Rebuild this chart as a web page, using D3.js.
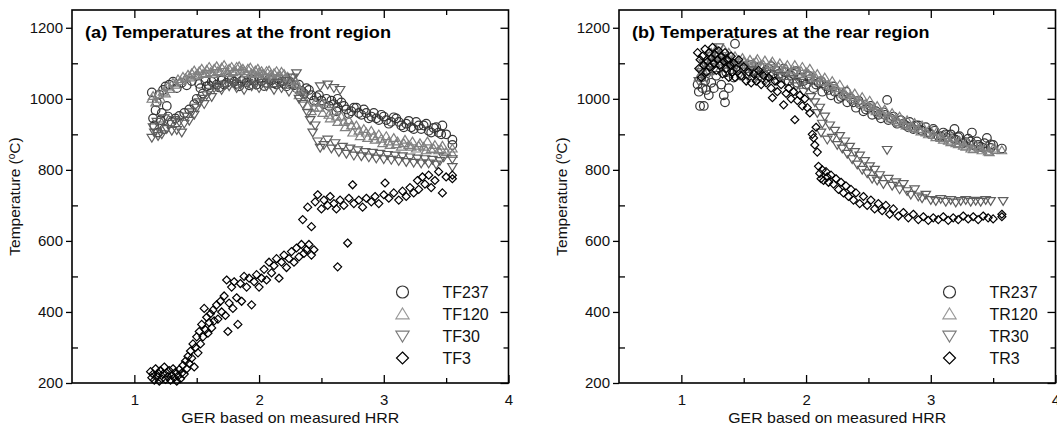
<!DOCTYPE html>
<html>
<head>
<meta charset="utf-8">
<script src="https://cdn.jsdelivr.net/npm/d3@7"></script>
<style>
body { margin: 0; background: #fff; }
text { font-family: "Liberation Sans", Arial, sans-serif; }
</style>
</head>
<body>
<svg id="chart" width="1057" height="430"></svg>
<script>
// ---- data ----
const xTicks = [1, 2, 3, 4];
const xMinorTicks = [1.5, 2.5, 3.5];
const yTicks = [200, 400, 600, 800, 1000, 1200];
const yMinorTicks = [300, 500, 700, 900, 1100];

const frontNames = ["TF237", "TF120", "TF30", "TF3"];
const rearNames = ["TR237", "TR120", "TR30", "TR3"];

// front region  [GER, temperature]
const tf237 = [[1.14,1018],[1.15,945],[1.16,925],[1.17,968],[1.18,990],[1.19,905],[1.20,1012],[1.21,940],[1.22,960],[1.23,1025],[1.24,915],[1.25,1035],[1.26,980],[1.27,950],[1.28,1040],[1.30,935],[1.31,1048],[1.33,945],[1.34,1030],[1.36,952],[1.38,1045],[1.40,960],[1.42,1038],[1.44,970],[1.46,1050],[1.48,985],[1.50,1000],[1.52,1042],[1.55,1015],[1.58,1035],[1.62,1048],[1.66,1040],[1.70,1052],[1.74,1045],[1.78,1055],[1.82,1042],[1.86,1050],[1.90,1046],[1.94,1055],[1.98,1040],[2.02,1050],[2.06,1045],[2.10,1052],[2.14,1040],[2.18,1048],[2.22,1035],[2.26,1042],[2.30,1030],[2.34,1022],[2.38,1030],[2.42,1010],[2.46,1005],[2.50,995],[2.54,1000],[2.56,980],[2.60,985],[2.63,1000],[2.63,975],[2.66,990],[2.70,970],[2.74,965],[2.78,975],[2.82,955],[2.86,960],[2.90,950],[2.94,945],[2.98,955],[3.02,940],[3.06,935],[3.10,945],[3.14,925],[3.18,930],[3.22,920],[3.26,935],[3.30,915],[3.32,925],[3.36,910],[3.40,918],[3.44,905],[3.47,925],[3.50,900],[3.55,885],[3.55,870],
    [1.53,1030],[1.57,1050],[1.60,1038],[1.64,1055],[1.68,1032],[1.72,1040],[1.76,1058],[1.80,1048],[1.84,1035],[1.88,1057],[1.92,1038],[1.96,1050],[2.00,1058],[2.04,1036],[2.08,1055],[2.12,1044],[2.16,1056],[2.20,1042],[2.24,1050],[2.28,1038],[2.32,1040],[2.36,1015],[2.40,1025],[2.44,995],[2.48,1010],[2.52,985],[2.58,995],[2.62,965],[2.68,980],[2.72,958],[2.76,975],[2.80,960],[2.84,970],[2.88,945],[2.92,960],[2.96,940],[3.00,950],[3.04,930],[3.08,948],[3.12,935],[3.16,920],[3.20,938],[3.24,915],[3.28,925],[3.34,930],[3.38,905],[3.42,920],[3.46,900]];
const tf120 = [[1.14,1000],[1.15,1008],[1.17,990],[1.19,1012],[1.21,1000],[1.23,1020],[1.25,1015],[1.27,1035],[1.29,1028],[1.31,1045],[1.33,1040],[1.35,1055],[1.37,1050],[1.39,1062],[1.41,1058],[1.43,1068],[1.46,1072],[1.49,1065],[1.52,1078],[1.55,1070],[1.58,1082],[1.61,1075],[1.64,1085],[1.67,1078],[1.70,1088],[1.73,1080],[1.76,1085],[1.79,1075],[1.82,1090],[1.85,1080],[1.88,1078],[1.91,1085],[1.94,1072],[1.97,1080],[2.00,1075],[2.03,1070],[2.06,1078],[2.09,1068],[2.12,1072],[2.15,1062],[2.18,1076],[2.21,1058],[2.24,1050],[2.27,1060],[2.30,1040],[2.33,1025],[2.36,1000],[2.39,980],[2.42,965],[2.45,990],[2.48,975],[2.51,960],[2.54,985],[2.57,945],[2.60,965],[2.63,935],[2.66,950],[2.69,920],[2.72,940],[2.75,905],[2.78,925],[2.81,895],[2.84,915],[2.87,890],[2.90,910],[2.93,885],[2.96,900],[2.99,875],[3.02,895],[3.05,870],[3.08,890],[3.11,880],[3.14,865],[3.17,885],[3.20,870],[3.23,880],[3.26,860],[3.29,875],[3.32,865],[3.35,880],[3.38,858],[3.41,870],[3.44,855],[3.47,868],[3.50,850],[3.55,860],[3.55,845],
    [1.45,1060],[1.48,1080],[1.51,1068],[1.54,1085],[1.57,1072],[1.60,1090],[1.63,1070],[1.66,1092],[1.69,1075],[1.72,1095],[1.75,1072],[1.78,1090],[1.81,1078],[1.84,1092],[1.87,1085],[1.90,1072],[1.93,1088],[1.96,1070],[1.99,1085],[2.02,1078],[2.05,1065],[2.08,1080],[2.11,1062],[2.14,1078],[2.17,1065],[2.20,1070],[2.23,1062],[2.26,1045],[2.29,1052],[2.32,1010],[2.35,1020],[2.44,975],[2.50,990],[2.56,955],[2.62,950],[2.68,935],[2.74,925],[2.80,910],[2.86,905],[2.92,895],[2.98,888],[3.04,880],[3.10,872],[3.16,875],[3.22,865],[3.28,868],[3.34,855],[3.40,860],[3.46,858]];
const tf30 = [[1.14,890],[1.15,920],[1.16,905],[1.18,935],[1.19,895],[1.21,925],[1.22,900],[1.24,945],[1.26,915],[1.28,930],[1.30,910],[1.32,940],[1.34,912],[1.36,935],[1.38,905],[1.40,930],[1.42,950],[1.44,938],[1.46,962],[1.48,955],[1.50,975],[1.52,990],[1.54,1000],[1.56,985],[1.58,1010],[1.60,1020],[1.62,1005],[1.64,1030],[1.67,1035],[1.70,1025],[1.73,1040],[1.76,1035],[1.79,1045],[1.82,1030],[1.85,1040],[1.88,1025],[1.91,1045],[1.94,1035],[1.97,1040],[2.00,1030],[2.03,1045],[2.06,1035],[2.09,1040],[2.12,1025],[2.15,1045],[2.18,1030],[2.21,1050],[2.24,1020],[2.27,1060],[2.30,1072],[2.32,1000],[2.35,985],[2.37,1010],[2.39,960],[2.41,940],[2.43,905],[2.45,925],[2.47,880],[2.49,1035],[2.49,862],[2.52,870],[2.55,1040],[2.55,885],[2.58,860],[2.60,1030],[2.61,875],[2.64,850],[2.65,1025],[2.67,865],[2.70,845],[2.73,860],[2.76,840],[2.79,855],[2.82,838],[2.85,850],[2.88,835],[2.91,848],[2.94,832],[2.97,845],[3.00,830],[3.03,842],[3.06,828],[3.09,840],[3.12,825],[3.15,838],[3.18,822],[3.21,835],[3.24,820],[3.27,832],[3.30,818],[3.33,830],[3.36,818],[3.39,828],[3.42,815],[3.45,825],[3.48,835],[3.55,830],[3.55,808]];
const tf3 = [[1.13,232],[1.14,215],[1.15,225],[1.16,208],[1.17,240],[1.18,218],[1.19,228],[1.20,205],[1.21,235],[1.22,212],[1.23,225],[1.24,245],[1.25,210],[1.26,228],[1.27,218],[1.28,235],[1.29,208],[1.30,222],[1.31,240],[1.32,215],[1.33,230],[1.34,205],[1.35,220],[1.36,238],[1.37,212],[1.38,228],[1.39,250],[1.40,225],[1.41,262],[1.42,240],[1.43,275],[1.44,255],[1.45,290],[1.46,270],[1.47,310],[1.48,245],[1.49,300],[1.50,330],[1.51,285],[1.52,345],[1.53,310],[1.54,365],[1.55,330],[1.56,410],[1.57,350],[1.58,385],[1.59,340],[1.60,370],[1.61,395],[1.62,355],[1.63,405],[1.64,375],[1.66,420],[1.67,380],[1.69,430],[1.70,400],[1.72,445],[1.73,390],[1.74,490],[1.75,345],[1.76,425],[1.78,470],[1.79,410],[1.80,485],[1.82,440],[1.83,365],[1.85,480],[1.86,430],[1.88,500],[1.90,470],[1.92,495],[1.94,420],[1.96,485],[1.98,505],[2.00,470],[2.02,495],[2.04,520],[2.06,490],[2.08,540],[2.10,510],[2.12,530],[2.14,550],[2.16,495],[2.18,540],[2.20,560],[2.22,525],[2.24,550],[2.26,570],[2.28,540],[2.30,580],[2.32,555],[2.34,590],[2.36,565],[2.38,575],[2.40,590],[2.42,560],[2.44,575],[2.35,660],[2.39,695],[2.42,640],[2.45,710],[2.47,730],[2.50,690],[2.52,715],[2.55,700],[2.57,725],[2.60,705],[2.62,690],[2.63,527],[2.65,715],[2.68,700],[2.71,594],[2.72,720],[2.75,758],[2.76,705],[2.80,715],[2.83,695],[2.86,720],[2.90,710],[2.93,725],[2.96,705],[3.00,730],[3.01,763],[3.04,720],[3.08,735],[3.12,715],[3.15,740],[3.18,725],[3.21,750],[3.24,735],[3.27,770],[3.28,745],[3.31,780],[3.33,760],[3.36,785],[3.38,750],[3.41,770],[3.44,795],[3.47,735],[3.50,780],[3.55,775],[3.55,785]];

// rear region  [GER, temperature]
const tr237 = [[1.13,1040],[1.14,1020],[1.15,980],[1.16,1060],[1.17,1030],[1.18,980],[1.19,1050],[1.20,1025],[1.21,1080],[1.22,1010],[1.24,1045],[1.25,1100],[1.26,1030],[1.28,1065],[1.30,1120],[1.32,1040],[1.34,1010],[1.35,990],[1.36,1075],[1.38,1030],[1.40,1095],[1.42,1060],[1.43,1155],[1.45,1080],[1.48,1065],[1.50,1090],[1.53,1070],[1.56,1095],[1.60,1075],[1.63,1090],[1.66,1070],[1.70,1085],[1.73,1065],[1.76,1080],[1.80,1060],[1.83,1075],[1.86,1050],[1.90,1070],[1.93,1045],[1.96,1060],[2.00,1040],[2.03,1055],[2.06,1030],[2.10,1045],[2.13,1020],[2.16,1035],[2.20,1010],[2.23,1020],[2.26,1000],[2.30,1010],[2.33,990],[2.36,1000],[2.40,975],[2.43,985],[2.46,965],[2.50,975],[2.53,955],[2.56,965],[2.60,945],[2.63,955],[2.65,997],[2.66,940],[2.70,950],[2.73,930],[2.76,940],[2.80,925],[2.83,935],[2.86,915],[2.90,925],[2.93,910],[2.96,920],[3.00,900],[3.03,910],[3.06,895],[3.10,905],[3.13,890],[3.16,900],[3.19,915],[3.20,885],[3.23,895],[3.26,875],[3.30,888],[3.33,905],[3.34,870],[3.37,880],[3.40,865],[3.43,875],[3.45,890],[3.48,862],[3.50,870],[3.57,860],
    [1.52,1085],[1.58,1080],[1.62,1065],[1.68,1080],[1.72,1092],[1.78,1070],[1.82,1085],[1.88,1065],[1.92,1078],[1.98,1050],[2.02,1065],[2.08,1040],[2.12,1050],[2.18,1025],[2.22,1035],[2.28,1005],[2.32,1020],[2.38,990],[2.42,995],[2.48,970],[2.52,980],[2.58,955],[2.62,962],[2.68,945],[2.72,935],[2.78,930],[2.82,920],[2.88,925],[2.92,912],[2.98,905],[3.02,915],[3.08,895],[3.12,900],[3.18,888],[3.22,892],[3.28,878],[3.32,880],[3.38,870],[3.42,862],[3.48,872]];
const tr120 = [[1.14,1060],[1.16,1090],[1.18,1075],[1.20,1110],[1.22,1095],[1.24,1130],[1.26,1115],[1.28,1140],[1.30,1105],[1.32,1125],[1.34,1140],[1.36,1110],[1.38,1130],[1.40,1100],[1.43,1120],[1.46,1105],[1.49,1115],[1.52,1095],[1.55,1110],[1.58,1100],[1.61,1112],[1.64,1095],[1.67,1108],[1.70,1090],[1.73,1105],[1.76,1085],[1.79,1100],[1.82,1080],[1.85,1095],[1.88,1075],[1.91,1095],[1.94,1070],[1.97,1090],[2.00,1075],[2.03,1085],[2.06,1060],[2.09,1070],[2.12,1050],[2.15,1060],[2.18,1040],[2.21,1050],[2.24,1030],[2.27,1040],[2.30,1015],[2.33,1025],[2.36,1005],[2.39,1015],[2.42,995],[2.45,1005],[2.48,985],[2.51,995],[2.54,970],[2.57,980],[2.60,960],[2.63,970],[2.66,950],[2.69,960],[2.72,940],[2.75,950],[2.78,930],[2.81,940],[2.84,922],[2.87,932],[2.90,915],[2.93,925],[2.96,905],[2.99,915],[3.02,898],[3.05,908],[3.08,890],[3.11,898],[3.14,882],[3.17,890],[3.20,875],[3.23,882],[3.26,868],[3.29,878],[3.32,860],[3.35,870],[3.38,865],[3.41,855],[3.44,865],[3.47,850],[3.50,860],[3.57,855],
    [1.50,1105],[1.54,1098],[1.60,1105],[1.66,1095],[1.72,1098],[1.78,1090],[1.84,1085],[1.90,1080],[1.96,1078],[2.02,1070],[2.08,1058],[2.14,1048],[2.20,1035],[2.26,1022],[2.32,1010],[2.38,1000],[2.44,988],[2.50,978],[2.56,965],[2.62,955],[2.68,945],[2.74,935],[2.80,925],[2.86,918],[2.92,908],[2.98,900],[3.04,892],[3.10,885],[3.16,878],[3.22,872],[3.28,865],[3.34,858],[3.40,862],[3.46,852],[3.52,856]];
const tr30 = [[1.14,1050],[1.16,1075],[1.18,1100],[1.20,1060],[1.22,1090],[1.24,1120],[1.26,1080],[1.28,1110],[1.30,1145],[1.32,1095],[1.34,1115],[1.36,1085],[1.38,1105],[1.41,1075],[1.44,1095],[1.47,1070],[1.50,1085],[1.53,1065],[1.56,1080],[1.60,1060],[1.64,1075],[1.68,1055],[1.72,1070],[1.76,1050],[1.80,1065],[1.84,1045],[1.88,1055],[1.92,1035],[1.95,1045],[1.98,1020],[2.01,1035],[2.04,1005],[2.07,990],[2.09,960],[2.11,975],[2.12,905],[2.13,930],[2.15,950],[2.17,885],[2.19,925],[2.21,890],[2.23,910],[2.25,870],[2.27,895],[2.29,860],[2.31,880],[2.33,845],[2.35,865],[2.37,830],[2.39,850],[2.41,815],[2.43,840],[2.45,800],[2.47,825],[2.49,790],[2.51,810],[2.53,775],[2.55,800],[2.57,770],[2.59,785],[2.62,760],[2.65,856],[2.66,775],[2.69,755],[2.72,765],[2.75,745],[2.78,760],[2.81,740],[2.84,730],[2.87,745],[2.90,725],[2.93,720],[2.96,730],[3.00,715],[3.04,712],[3.08,718],[3.12,710],[3.16,715],[3.20,708],[3.24,712],[3.28,715],[3.32,710],[3.36,713],[3.40,710],[3.44,715],[3.48,712],[3.58,712]];
const tr3 = [[1.13,1130],[1.14,1085],[1.15,1110],[1.16,1060],[1.17,1120],[1.18,1095],[1.19,1140],[1.20,1075],[1.21,1105],[1.22,1130],[1.23,1090],[1.24,1115],[1.25,1145],[1.26,1100],[1.27,1125],[1.28,1080],[1.29,1110],[1.30,1135],[1.31,1095],[1.32,1120],[1.33,1070],[1.34,1105],[1.35,1130],[1.36,1085],[1.37,1110],[1.38,1060],[1.39,1095],[1.40,1120],[1.41,1075],[1.42,1100],[1.43,1060],[1.44,1085],[1.46,1110],[1.48,1065],[1.50,1090],[1.52,1050],[1.54,1075],[1.56,1045],[1.58,1070],[1.60,1050],[1.62,1080],[1.64,1040],[1.66,1065],[1.68,1045],[1.70,1060],[1.72,1030],[1.73,1003],[1.75,1050],[1.77,1020],[1.80,1040],[1.82,983],[1.84,1015],[1.86,1030],[1.88,1000],[1.90,1020],[1.91,941],[1.93,995],[1.95,1010],[1.97,980],[1.99,1000],[2.01,975],[2.03,960],[2.05,900],[2.06,890],[2.07,870],[2.08,920],[2.09,850],[2.10,810],[2.11,790],[2.12,775],[2.13,800],[2.14,770],[2.16,795],[2.17,780],[2.18,765],[2.20,785],[2.22,760],[2.24,775],[2.26,745],[2.28,765],[2.30,735],[2.32,755],[2.34,725],[2.36,745],[2.38,715],[2.40,735],[2.43,705],[2.46,725],[2.49,700],[2.52,715],[2.55,690],[2.58,705],[2.61,685],[2.64,700],[2.67,675],[2.70,690],[2.74,670],[2.78,680],[2.82,665],[2.86,675],[2.90,660],[2.94,668],[2.98,658],[3.02,665],[3.06,660],[3.10,668],[3.14,658],[3.18,665],[3.22,660],[3.26,670],[3.30,662],[3.34,668],[3.38,660],[3.42,670],[3.46,665],[3.50,662],[3.57,668],[3.57,675]];

const markerTypes = ["circle", "up", "down", "diamond"];
const markerColors = ["#353535", "#808080", "#5e5e5e", "#000000"];
const legendColors = ["#333333", "#999999", "#7a7a7a", "#000000"];

function markerPath(type, s) {
    if (type === "circle") return d3.symbol(d3.symbolCircle, Math.PI * s * s)();
    if (type === "up") return `M0,${-s}L${s * 1.1},${s * 0.8}L${-s * 1.1},${s * 0.8}Z`;
    if (type === "down") return `M0,${s}L${s * 1.1},${-s * 0.8}L${-s * 1.1},${-s * 0.8}Z`;
    return `M0,${-s}L${s},0L0,${s}L${-s},0Z`;
}

class TempPanel {
    constructor(svg, left, title, names, series, labelX) {
        this.svg = svg;
        this.left = left;
        this.top = 10;
        this.width = 436.5;
        this.height = 373;
        this.title = title;
        this.names = names;
        this.series = series;
        this.labelX = labelX;
    }

    initialize() {
        const self = this;
        const g = this.svg.append("g").attr("transform", `translate(${this.left}, ${this.top})`);

        this.x = d3.scaleLinear().domain([0.5, 4]).range([0, this.width]);
        this.y = d3.scaleLinear().domain([200, 1250]).range([this.height, 0]);

        // scatter
        this.series.forEach((pts, i) => {
            const p = markerPath(markerTypes[i], markerTypes[i] === "diamond" ? 4 : 4.3);
            g.append("g").selectAll("path")
                .data(pts)
                .join("path")
                .attr("transform", d => `translate(${self.x(d[0])},${self.y(d[1])})`)
                .attr("d", p)
                .attr("fill", "none")
                .attr("stroke", markerColors[i])
                .attr("stroke-width", 1.2);
        });

        // axes
        const style = sel => {
            sel.select(".domain").remove();
            sel.selectAll("line").attr("stroke", "#000").attr("stroke-width", 1.3);
            sel.selectAll("text").attr("font-size", 15).attr("fill", "#111");
        };
        g.append("g").attr("transform", `translate(0, ${this.height})`)
            .call(d3.axisBottom(this.x).tickValues(xTicks).tickSize(-8).tickPadding(11).tickFormat(d3.format("d"))).call(style);
        g.append("g").attr("transform", `translate(0, ${this.height})`)
            .call(d3.axisBottom(this.x).tickValues(xMinorTicks).tickSize(-5).tickFormat("")).call(style);
        g.append("g")
            .call(d3.axisTop(this.x).tickValues(xTicks.slice(0, 3)).tickSize(-8).tickFormat("")).call(style);
        g.append("g")
            .call(d3.axisTop(this.x).tickValues(xMinorTicks).tickSize(-5).tickFormat("")).call(style);
        g.append("g")
            .call(d3.axisLeft(this.y).tickValues(yTicks).tickSize(6).tickPadding(3).tickFormat(d3.format("d"))).call(style);
        g.append("g")
            .call(d3.axisLeft(this.y).tickValues(yMinorTicks).tickSize(-6).tickFormat("")).call(style);
        g.append("g").attr("transform", `translate(${this.width}, 0)`)
            .call(d3.axisRight(this.y).tickValues(yTicks).tickSize(-8).tickFormat("")).call(style);
        g.append("g").attr("transform", `translate(${this.width}, 0)`)
            .call(d3.axisRight(this.y).tickValues(yMinorTicks).tickSize(-5).tickFormat("")).call(style);

        g.append("rect")
            .attr("width", this.width).attr("height", this.height)
            .attr("fill", "none").attr("stroke", "#000").attr("stroke-width", 1.6);

        // title
        g.append("text")
            .attr("x", 13).attr("y", 28)
            .attr("font-size", 16).attr("font-weight", "bold")
            .attr("textLength", this.title.length * 8.5)
            .attr("lengthAdjust", "spacingAndGlyphs")
            .text(this.title);

        // axis labels
        g.append("text")
            .attr("x", this.width / 2).attr("y", 413)
            .attr("text-anchor", "middle").attr("font-size", 15).attr("fill", "#111")
            .attr("textLength", 218).attr("lengthAdjust", "spacingAndGlyphs")
            .text("GER based on measured HRR");
        const yl = this.svg.append("text")
            .attr("transform", `translate(${this.labelX}, ${this.top + this.height / 2}) rotate(-90)`)
            .attr("text-anchor", "middle").attr("font-size", 15.5).attr("fill", "#111");
        yl.append("tspan").text("Temperature (");
        yl.append("tspan").attr("font-size", 10).attr("dy", -5).text("o");
        yl.append("tspan").attr("dy", 5).text("C)");

        // legend
        const lg = g.append("g").attr("transform", `translate(${this.width - 106}, 282)`);
        this.names.forEach((name, i) => {
            const row = lg.append("g").attr("transform", `translate(0, ${i * 22})`);
            row.append("path")
                .attr("d", markerPath(markerTypes[i], 6))
                .attr("fill", "none").attr("stroke", legendColors[i]).attr("stroke-width", 1.2);
            row.append("text")
                .attr("x", 40).attr("y", 5.5)
                .attr("font-size", 16).attr("fill", "#111")
                .text(name);
        });
    }
}

const svg = d3.select("#chart");
new TempPanel(svg, 72, "(a) Temperatures at the front region", frontNames, [tf237, tf120, tf30, tf3], 20).initialize();
new TempPanel(svg, 619, "(b) Temperatures at the rear region", rearNames, [tr237, tr120, tr30, tr3], 567).initialize();
</script>
</body>
</html>
